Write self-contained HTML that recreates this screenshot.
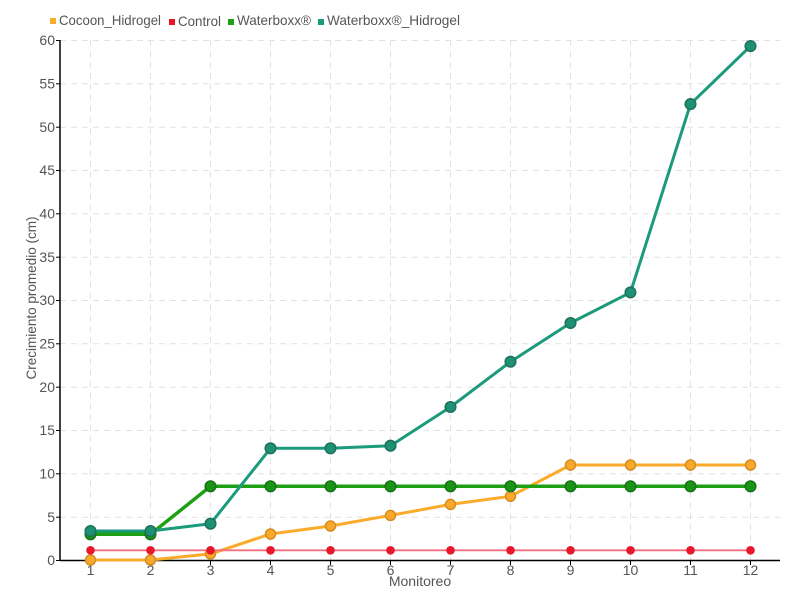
<!DOCTYPE html>
<html>
<head>
<meta charset="utf-8">
<style>
html,body{margin:0;padding:0;background:#fff;}
svg{display:block;}
text{font-family:"Liberation Sans",sans-serif;fill:#555;}
</style>
</head>
<body>
<svg width="800" height="600" viewBox="0 0 800 600" xmlns="http://www.w3.org/2000/svg">
<rect width="800" height="600" fill="#fff"/>
<!-- grid -->
<g stroke="#e2e2e2" stroke-width="1" stroke-dasharray="6,5" fill="none">
<line x1="60" y1="40.5" x2="780" y2="40.5"/>
<line x1="60" y1="83.8" x2="780" y2="83.8"/>
<line x1="60" y1="127.2" x2="780" y2="127.2"/>
<line x1="60" y1="170.5" x2="780" y2="170.5"/>
<line x1="60" y1="213.8" x2="780" y2="213.8"/>
<line x1="60" y1="257.2" x2="780" y2="257.2"/>
<line x1="60" y1="300.5" x2="780" y2="300.5"/>
<line x1="60" y1="343.8" x2="780" y2="343.8"/>
<line x1="60" y1="387.2" x2="780" y2="387.2"/>
<line x1="60" y1="430.5" x2="780" y2="430.5"/>
<line x1="60" y1="473.8" x2="780" y2="473.8"/>
<line x1="60" y1="517.2" x2="780" y2="517.2"/>
<line x1="90.5" y1="40" x2="90.5" y2="560"/>
<line x1="150.5" y1="40" x2="150.5" y2="560"/>
<line x1="210.5" y1="40" x2="210.5" y2="560"/>
<line x1="270.5" y1="40" x2="270.5" y2="560"/>
<line x1="330.5" y1="40" x2="330.5" y2="560"/>
<line x1="390.5" y1="40" x2="390.5" y2="560"/>
<line x1="450.5" y1="40" x2="450.5" y2="560"/>
<line x1="510.5" y1="40" x2="510.5" y2="560"/>
<line x1="570.5" y1="40" x2="570.5" y2="560"/>
<line x1="630.5" y1="40" x2="630.5" y2="560"/>
<line x1="690.5" y1="40" x2="690.5" y2="560"/>
<line x1="750.5" y1="40" x2="750.5" y2="560"/>
</g>
<!-- axes -->
<g stroke="#000" stroke-width="1.5" fill="none">
<line x1="60" y1="40" x2="60" y2="560.5"/>
<line x1="60" y1="560.5" x2="780" y2="560.5"/>
</g>
<g stroke="#000" stroke-width="1" fill="none">
<line x1="56" y1="40.5" x2="60" y2="40.5"/>
<line x1="56" y1="83.8" x2="60" y2="83.8"/>
<line x1="56" y1="127.2" x2="60" y2="127.2"/>
<line x1="56" y1="170.5" x2="60" y2="170.5"/>
<line x1="56" y1="213.8" x2="60" y2="213.8"/>
<line x1="56" y1="257.2" x2="60" y2="257.2"/>
<line x1="56" y1="300.5" x2="60" y2="300.5"/>
<line x1="56" y1="343.8" x2="60" y2="343.8"/>
<line x1="56" y1="387.2" x2="60" y2="387.2"/>
<line x1="56" y1="430.5" x2="60" y2="430.5"/>
<line x1="56" y1="473.8" x2="60" y2="473.8"/>
<line x1="56" y1="517.2" x2="60" y2="517.2"/>
<line x1="56" y1="560.5" x2="60" y2="560.5"/>
<line x1="90.5" y1="560" x2="90.5" y2="565"/>
<line x1="150.5" y1="560" x2="150.5" y2="565"/>
<line x1="210.5" y1="560" x2="210.5" y2="565"/>
<line x1="270.5" y1="560" x2="270.5" y2="565"/>
<line x1="330.5" y1="560" x2="330.5" y2="565"/>
<line x1="390.5" y1="560" x2="390.5" y2="565"/>
<line x1="450.5" y1="560" x2="450.5" y2="565"/>
<line x1="510.5" y1="560" x2="510.5" y2="565"/>
<line x1="570.5" y1="560" x2="570.5" y2="565"/>
<line x1="630.5" y1="560" x2="630.5" y2="565"/>
<line x1="690.5" y1="560" x2="690.5" y2="565"/>
<line x1="750.5" y1="560" x2="750.5" y2="565"/>
</g>
<!-- y tick labels -->
<g font-size="14" text-anchor="end">
<text x="55" y="45">60</text>
<text x="55" y="88.5">55</text>
<text x="55" y="132">50</text>
<text x="55" y="175">45</text>
<text x="55" y="218.5">40</text>
<text x="55" y="262">35</text>
<text x="55" y="305">30</text>
<text x="55" y="348.5">25</text>
<text x="55" y="392">20</text>
<text x="55" y="435">15</text>
<text x="55" y="478.5">10</text>
<text x="55" y="522">5</text>
<text x="55" y="565">0</text>
</g>
<!-- x tick labels -->
<g font-size="14" text-anchor="middle">
<text x="90.5" y="575">1</text>
<text x="150.5" y="575">2</text>
<text x="210.5" y="575">3</text>
<text x="270.5" y="575">4</text>
<text x="330.5" y="575">5</text>
<text x="390.5" y="575">6</text>
<text x="450.5" y="575">7</text>
<text x="510.5" y="575">8</text>
<text x="570.5" y="575">9</text>
<text x="630.5" y="575">10</text>
<text x="690.5" y="575">11</text>
<text x="750.5" y="575">12</text>
</g>
<text x="420" y="586" font-size="14" text-anchor="middle">Monitoreo</text>
<text x="0" y="0" font-size="14" text-anchor="middle" transform="translate(36,298) rotate(-90)" textLength="163" lengthAdjust="spacingAndGlyphs">Crecimiento promedio (cm)</text>

<!-- Cocoon_Hidrogel -->
<polyline fill="none" stroke="#fbab2a" stroke-width="3" stroke-linejoin="round" points="90.5,560 150.5,560 210.5,553.9 270.5,534 330.5,526 390.5,515.4 450.5,504.4 510.5,496.3 570.5,465 630.5,465 690.5,465 750.5,465"/>
<g fill="#f9a92a" stroke="#d38d24" stroke-width="1.5">
<circle cx="90.5" cy="560" r="5"/><circle cx="150.5" cy="560" r="5"/><circle cx="210.5" cy="553.9" r="5"/><circle cx="270.5" cy="534" r="5"/><circle cx="330.5" cy="526" r="5"/><circle cx="390.5" cy="515.4" r="5"/><circle cx="450.5" cy="504.4" r="5"/><circle cx="510.5" cy="496.3" r="5"/><circle cx="570.5" cy="465" r="5"/><circle cx="630.5" cy="465" r="5"/><circle cx="690.5" cy="465" r="5"/><circle cx="750.5" cy="465" r="5"/>
</g>
<!-- Control -->
<line x1="90.5" y1="550.3" x2="750.5" y2="550.3" stroke="#f07080" stroke-width="1.8"/>
<g fill="#e8172b">
<circle cx="90.5" cy="550.3" r="4.3"/><circle cx="150.5" cy="550.3" r="4.3"/><circle cx="210.5" cy="550.3" r="4.3"/><circle cx="270.5" cy="550.3" r="4.3"/><circle cx="330.5" cy="550.3" r="4.3"/><circle cx="390.5" cy="550.3" r="4.3"/><circle cx="450.5" cy="550.3" r="4.3"/><circle cx="510.5" cy="550.3" r="4.3"/><circle cx="570.5" cy="550.3" r="4.3"/><circle cx="630.5" cy="550.3" r="4.3"/><circle cx="690.5" cy="550.3" r="4.3"/><circle cx="750.5" cy="550.3" r="4.3"/>
</g>
<!-- Waterboxx -->
<polyline fill="none" stroke="#1ea015" stroke-width="3.5" stroke-linejoin="round" points="90.5,534.3 150.5,534.3 210.5,486.3 270.5,486.3 330.5,486.3 390.5,486.3 450.5,486.3 510.5,486.3 570.5,486.3 630.5,486.3 690.5,486.3 750.5,486.3"/>
<g fill="#1a9414" stroke="#17731a" stroke-width="1.5">
<circle cx="90.5" cy="534.3" r="5.3"/><circle cx="150.5" cy="534.3" r="5.3"/><circle cx="210.5" cy="486.3" r="5.3"/><circle cx="270.5" cy="486.3" r="5.3"/><circle cx="330.5" cy="486.3" r="5.3"/><circle cx="390.5" cy="486.3" r="5.3"/><circle cx="450.5" cy="486.3" r="5.3"/><circle cx="510.5" cy="486.3" r="5.3"/><circle cx="570.5" cy="486.3" r="5.3"/><circle cx="630.5" cy="486.3" r="5.3"/><circle cx="690.5" cy="486.3" r="5.3"/><circle cx="750.5" cy="486.3" r="5.3"/>
</g>
<!-- Waterboxx_Hidrogel -->
<polyline fill="none" stroke="#1b9a7c" stroke-width="3" stroke-linejoin="round" points="90.5,531 150.5,531 210.5,523.7 270.5,448.3 330.5,448.3 390.5,445.7 450.5,407 510.5,361.7 570.5,323 630.5,292.4 690.5,104.1 750.5,46.1"/>
<g fill="#1c9174" stroke="#21705c" stroke-width="1.5">
<circle cx="90.5" cy="531" r="5.3"/><circle cx="150.5" cy="531" r="5.3"/><circle cx="210.5" cy="523.7" r="5.3"/><circle cx="270.5" cy="448.3" r="5.3"/><circle cx="330.5" cy="448.3" r="5.3"/><circle cx="390.5" cy="445.7" r="5.3"/><circle cx="450.5" cy="407" r="5.3"/><circle cx="510.5" cy="361.7" r="5.3"/><circle cx="570.5" cy="323" r="5.3"/><circle cx="630.5" cy="292.4" r="5.3"/><circle cx="690.5" cy="104.1" r="5.3"/><circle cx="750.5" cy="46.1" r="5.3"/>
</g>

<!-- legend -->
<rect x="50" y="18" width="6" height="6" fill="#f9ad2a"/>
<text x="59" y="25" font-size="14" textLength="102" lengthAdjust="spacingAndGlyphs">Cocoon_Hidrogel</text>
<rect x="169" y="19" width="6" height="6" fill="#e8172b"/>
<text x="178" y="26" font-size="14" textLength="43" lengthAdjust="spacingAndGlyphs">Control</text>
<rect x="228" y="19" width="6" height="6" fill="#1ea015"/>
<text x="237" y="25" font-size="14" textLength="74" lengthAdjust="spacingAndGlyphs">Waterboxx®</text>
<rect x="318" y="19" width="6" height="6" fill="#1b9a7c"/>
<text x="327" y="25" font-size="14" textLength="133" lengthAdjust="spacingAndGlyphs">Waterboxx®_Hidrogel</text>
</svg>
</body>
</html>
